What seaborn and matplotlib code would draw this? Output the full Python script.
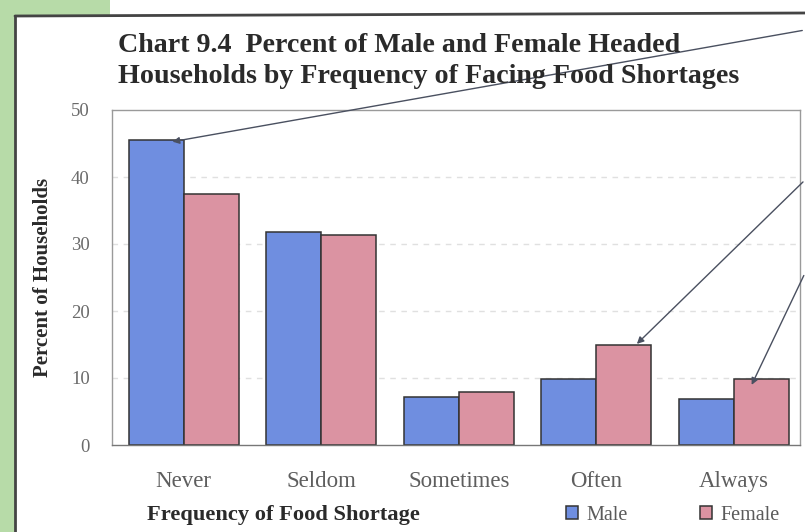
import matplotlib
matplotlib.use("Agg")
import matplotlib.pyplot as plt
import seaborn as sns
import pandas as pd
from matplotlib.patches import Rectangle
from matplotlib.lines import Line2D

categories = ["Never", "Seldom", "Sometimes", "Often", "Always"]
male = [45.5, 31.8, 7.2, 9.9, 6.9]
female = [37.5, 31.3, 7.9, 14.9, 9.8]
series = ["Male", "Female"]
yticks = [0, 10, 20, 30, 40, 50]

df = pd.DataFrame({
    "Frequency": categories * 2,
    "Percent": male + female,
    "Sex": [series[0]] * len(categories) + [series[1]] * len(categories),
})

sns.set_theme(style="white")
plt.rcParams["font.family"] = ["Liberation Serif", "DejaVu Serif"]

fig = plt.figure(figsize=(8.05, 5.32), dpi=100)
fig.patch.set_facecolor("white")

green = "#b7dba8"
fig.patches.append(Rectangle((0, 0), 15 / 805, 1, transform=fig.transFigure,
                             facecolor=green, edgecolor="none", zorder=0))
fig.patches.append(Rectangle((0, 1 - 15 / 532), 110 / 805, 15 / 532, transform=fig.transFigure,
                             facecolor=green, edgecolor="none", zorder=0))
fig.lines.append(Line2D([15 / 805, 15 / 805], [0, 1 - 16 / 532], transform=fig.transFigure,
                        color="#444444", lw=2))
fig.lines.append(Line2D([15 / 805, 1], [1 - 16 / 532, 1 - 13 / 532], transform=fig.transFigure,
                        color="#444444", lw=2))

ax = fig.add_axes([112 / 805, 1 - 445 / 532, (800 - 112) / 805, (445 - 110) / 532])
palette = {"Male": "#6f8ee0", "Female": "#db93a2"}
sns.barplot(data=df, x="Frequency", y="Percent", hue="Sex", order=categories,
            hue_order=series, palette=palette, edgecolor="#333333", linewidth=1.1,
            saturation=1, width=0.8, gap=0, ax=ax, legend=True)

ax.set_ylim(0, 50)
ax.set_xlim(-0.52, 4.48)
ax.set_yticks(yticks)
ax.set_yticklabels([str(v) for v in yticks])
for y in yticks[1:-1]:
    ax.axhline(y, color="#e0e0e0", lw=1, ls=(0, (4, 4)), zorder=0)
ax.tick_params(axis="y", labelsize=13.5, labelcolor="#6a6a6a", length=0, pad=16)
ax.tick_params(axis="x", labelsize=16.5, labelcolor="#5e5e5e", length=0, pad=19)
for s in ax.spines.values():
    s.set_color("#9a9a9a")
    s.set_linewidth(1)
ax.spines["bottom"].set_color("#777777")

ax.set_xlabel("Frequency of Food Shortage", fontsize=16.2, fontweight="bold",
              color="#2a2a2a")
ax.xaxis.set_label_coords(0.249, -0.18)
ax.set_ylabel("Percent of Households", fontsize=15, fontweight="bold",
              color="#2a2a2a")
ax.yaxis.set_label_coords(-0.086, 0.5)

leg = ax.legend(loc="center", bbox_to_anchor=(0.815, -0.21), ncol=2, frameon=False,
                fontsize=14.5, handlelength=0.6, handleheight=0.6, columnspacing=3.6,
                handletextpad=0.4)
for t in leg.get_texts():
    t.set_color("#5a5a5a")

fig.text(118 / 805, 1 - 52 / 532, "Chart 9.4  Percent of Male and Female Headed",
         fontsize=20.2, fontweight="bold", color="#2a2a2a", ha="left", va="baseline")
fig.text(118 / 805, 1 - 83 / 532, "Households by Frequency of Facing Food Shortages",
         fontsize=20.2, fontweight="bold", color="#2a2a2a", ha="left", va="baseline")

arrow = dict(arrowstyle="-|>", color="#4a5060", lw=1.0, mutation_scale=10)
ax.annotate("", xy=(-0.1, 45.2), xycoords="data", xytext=(1.0, 1 - 30 / 532),
            textcoords="figure fraction", arrowprops=arrow, annotation_clip=False)
ax.annotate("", xy=(3.28, 14.8), xycoords="data", xytext=(1.0, 1 - 180 / 532),
            textcoords="figure fraction", arrowprops=arrow, annotation_clip=False)
ax.annotate("", xy=(4.12, 8.6), xycoords="data", xytext=(1.0, 1 - 273 / 532),
            textcoords="figure fraction", arrowprops=arrow, annotation_clip=False)

fig.savefig("out.png", dpi=100)
